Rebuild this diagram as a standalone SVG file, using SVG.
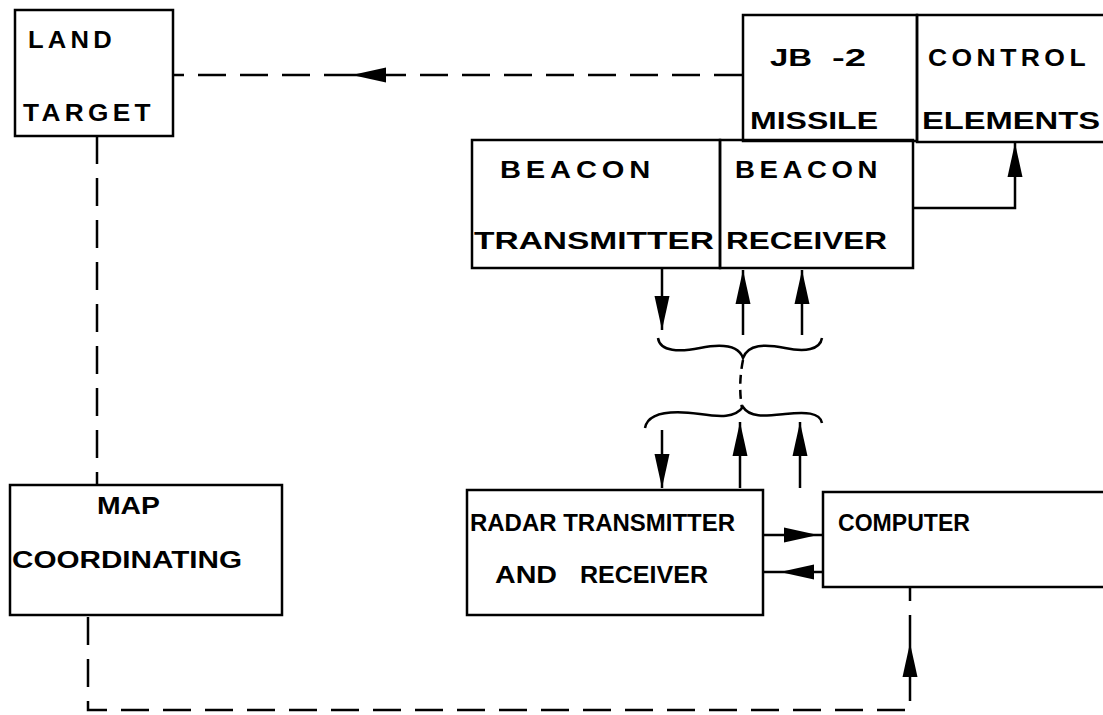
<svg xmlns="http://www.w3.org/2000/svg" width="1103" height="715" viewBox="0 0 1103 715">
<style>
.box{fill:none;stroke:#000;stroke-width:2.5}
.t{font-family:"Liberation Sans",Arial,sans-serif;font-weight:bold;font-size:24px;fill:#000}
.sp{letter-spacing:4px}
.ln{fill:none;stroke:#000;stroke-width:2.5}
.dash{fill:none;stroke:#000;stroke-width:2.5;stroke-dasharray:28 14}
</style>
<defs>
<marker id="ah" markerUnits="userSpaceOnUse" markerWidth="36" markerHeight="20" refX="34" refY="10" orient="auto">
<path d="M0,2.5 L34,10 L0,17.5 z" fill="#000"/>
</marker>
</defs>
<rect width="1103" height="715" fill="#fff"/>
<g id="land-target">
<rect class="box" x="15" y="10" width="158" height="126"/>
<text class="t sp" x="28" y="48" textLength="88" lengthAdjust="spacingAndGlyphs">LAND</text>
<text class="t sp" x="23" y="121" textLength="132" lengthAdjust="spacingAndGlyphs">TARGET</text>
</g>
<g id="jb2-missile">
<rect class="box" x="743" y="15" width="174" height="126"/>
<text class="t" x="770" y="66" textLength="42" lengthAdjust="spacingAndGlyphs">JB</text>
<text class="t" x="832" y="66" textLength="34" lengthAdjust="spacingAndGlyphs">-2</text>
<text class="t" x="750" y="129" textLength="128" lengthAdjust="spacingAndGlyphs">MISSILE</text>
</g>
<g id="control-elements">
<rect class="box" x="917" y="15" width="200" height="127"/>
<text class="t sp" x="928" y="66" textLength="162" lengthAdjust="spacingAndGlyphs">CONTROL</text>
<text class="t" x="922" y="129" textLength="178" lengthAdjust="spacingAndGlyphs">ELEMENTS</text>
</g>
<g id="beacon-transmitter">
<rect class="box" x="472" y="140" width="248" height="128"/>
<text class="t sp" x="500" y="178" textLength="155" lengthAdjust="spacingAndGlyphs">BEACON</text>
<text class="t" x="474" y="249" textLength="240" lengthAdjust="spacingAndGlyphs">TRANSMITTER</text>
</g>
<g id="beacon-receiver">
<rect class="box" x="720" y="140" width="193" height="128"/>
<text class="t sp" x="735" y="178" textLength="147" lengthAdjust="spacingAndGlyphs">BEACON</text>
<text class="t" x="726" y="249" textLength="161" lengthAdjust="spacingAndGlyphs">RECEIVER</text>
</g>
<g id="map-coordinating">
<rect class="box" x="10" y="485" width="272" height="130"/>
<text class="t" x="97" y="514" textLength="63" lengthAdjust="spacingAndGlyphs">MAP</text>
<text class="t" x="12" y="568" textLength="230" lengthAdjust="spacingAndGlyphs">COORDINATING</text>
</g>
<g id="radar">
<rect class="box" x="467" y="490" width="296" height="125"/>
<text class="t" x="470" y="531" textLength="265" lengthAdjust="spacingAndGlyphs">RADAR TRANSMITTER</text>
<text class="t" x="495" y="583" textLength="62" lengthAdjust="spacingAndGlyphs">AND</text>
<text class="t" x="580" y="583" textLength="128" lengthAdjust="spacingAndGlyphs">RECEIVER</text>
</g>
<g id="computer">
<rect class="box" x="823" y="492" width="300" height="95"/>
<text class="t" x="838" y="531" textLength="132" lengthAdjust="spacingAndGlyphs">COMPUTER</text>
</g>
<g id="connectors">
<path class="dash" d="M742,75 H352" marker-end="url(#ah)"/>
<path class="dash" d="M352,75 H173"/>
<path class="dash" d="M97,136 V485"/>
<path class="ln" d="M913,208 H1015 V143" marker-end="url(#ah)"/>
<path class="ln" d="M662,268 V330" marker-end="url(#ah)"/>
<path class="ln" d="M743,335 V270" marker-end="url(#ah)"/>
<path class="ln" d="M802,335 V270" marker-end="url(#ah)"/>
<path class="ln" d="M658,338 C660,352 680,352 700,348 C720,344 738,344 743,358 C748,344 765,344 785,348 C805,352 820,350 822,338"/>
<path class="ln" style="stroke-dasharray:9 6" d="M743,360 Q738,385 742,408"/>
<path class="ln" d="M645,428 C648,412 670,410 700,414 C720,417 735,418 743,407 C750,418 765,416 785,414 C805,412 820,412 822,423"/>
<path class="ln" d="M662,430 V488" marker-end="url(#ah)"/>
<path class="ln" d="M740,488 V422" marker-end="url(#ah)"/>
<path class="ln" d="M800,488 V422" marker-end="url(#ah)"/>
<path class="ln" d="M763,535 H818" marker-end="url(#ah)"/>
<path class="ln" d="M823,535 H818"/>
<path class="ln" d="M823,572 H780" marker-end="url(#ah)"/>
<path class="ln" d="M780,572 H763"/>
<path class="dash" d="M88,617 V710 H910 V643" marker-end="url(#ah)"/>
<path class="dash" d="M910,643 V587"/>
</g>
</svg>
